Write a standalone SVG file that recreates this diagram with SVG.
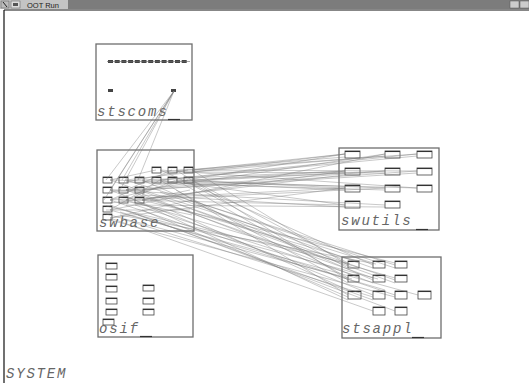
<svg xmlns="http://www.w3.org/2000/svg" width="529" height="383" viewBox="0 0 529 383">
<defs>
<style>
.frame{fill:none;stroke:#6e6e6e;stroke-width:1.3}
.lbl{font-family:"Liberation Mono",monospace;font-style:italic;font-size:14px;letter-spacing:1.8px;fill:#666}
.r{fill:#fff;stroke:#444;stroke-width:0.8}
.rt{stroke:#333;stroke-width:1.1}
.c line{stroke:#777;stroke-width:0.5;stroke-opacity:0.8}
.d{fill:#444}
</style>
</defs>
<rect width="529" height="383" fill="#fff"/>
<g id="titlebar">
<rect x="0" y="0" width="529" height="9" fill="#7c7c7c"/>
<rect x="0" y="0" width="68" height="9" fill="#c4c4c4"/>
<rect x="1" y="1" width="8" height="7" fill="#bbb" stroke="#555" stroke-width="0.5"/>
<line x1="3" y1="2" x2="7" y2="7" stroke="#222" stroke-width="1"/>
<rect x="11" y="1" width="9" height="7" fill="#ddd" stroke="#555" stroke-width="0.5"/>
<rect x="13" y="3" width="5" height="3" fill="#555"/>
<text x="27" y="7.5" font-family="Liberation Sans,sans-serif" font-size="7.5" fill="#222">OOT Run</text>
<rect x="510" y="1" width="9" height="7" fill="#ccc" stroke="#555" stroke-width="0.5"/>
<rect x="520" y="1" width="9" height="7" fill="#ccc" stroke="#555" stroke-width="0.5"/>
<line x1="4" y1="10" x2="529" y2="10" stroke="#111" stroke-width="1.2"/>
<line x1="4" y1="10" x2="4" y2="383" stroke="#111" stroke-width="1.2"/>
</g>
<text class="lbl" x="6" y="378">SYSTEM</text>

<g id="stscoms">
<rect class="frame" x="96" y="44" width="96" height="76"/>
<g class="d">
<rect x="108" y="60" width="5" height="3"/><rect x="114.7" y="60" width="5" height="3"/><rect x="121.4" y="60" width="5" height="3"/><rect x="128.1" y="60" width="5" height="3"/><rect x="134.8" y="60" width="5" height="3"/><rect x="141.5" y="60" width="5" height="3"/><rect x="148.2" y="60" width="5" height="3"/><rect x="154.9" y="60" width="5" height="3"/><rect x="161.6" y="60" width="5" height="3"/><rect x="168.3" y="60" width="5" height="3"/><rect x="175" y="60" width="5" height="3"/><rect x="181.7" y="60" width="5" height="3"/>
<rect x="108" y="89" width="5" height="3"/><rect x="171" y="89" width="5" height="3"/>
</g>
<line x1="107" y1="61.5" x2="190" y2="61.5" stroke="#666" stroke-width="0.6"/>
<text class="lbl" x="97" y="116">stscoms</text>
<line x1="168" y1="119.5" x2="180" y2="119.5" stroke="#333" stroke-width="1.2"/>
</g>

<g id="swbase">
<rect class="frame" x="97" y="150" width="97" height="81"/>
<rect class="r" x="152" y="167" width="9" height="6"/><rect class="r" x="168" y="167" width="9" height="6"/><rect class="r" x="184" y="167" width="9" height="6"/>
<rect class="r" x="103" y="177" width="9" height="6"/><rect class="r" x="119" y="177" width="9" height="6"/><rect class="r" x="135" y="177" width="9" height="6"/><rect class="r" x="152" y="177" width="9" height="6"/><rect class="r" x="168" y="177" width="9" height="6"/><rect class="r" x="184" y="177" width="9" height="6"/>
<rect class="r" x="103" y="187" width="9" height="6"/><rect class="r" x="119" y="187" width="9" height="6"/><rect class="r" x="135" y="187" width="9" height="6"/>
<rect class="r" x="103" y="197" width="9" height="6"/><rect class="r" x="119" y="197" width="9" height="6"/><rect class="r" x="135" y="197" width="9" height="6"/>
<rect class="r" x="103" y="206" width="9" height="6"/><rect class="r" x="103" y="214" width="9" height="6"/>
<g class="rt">
<line x1="152" y1="167.5" x2="161" y2="167.5"/><line x1="168" y1="167.5" x2="177" y2="167.5"/><line x1="184" y1="167.5" x2="193" y2="167.5"/>
<line x1="103" y1="177.5" x2="112" y2="177.5"/><line x1="119" y1="177.5" x2="128" y2="177.5"/><line x1="135" y1="177.5" x2="144" y2="177.5"/><line x1="152" y1="177.5" x2="161" y2="177.5"/><line x1="168" y1="177.5" x2="177" y2="177.5"/><line x1="184" y1="177.5" x2="193" y2="177.5"/>
<line x1="103" y1="187.5" x2="112" y2="187.5"/><line x1="119" y1="187.5" x2="128" y2="187.5"/><line x1="135" y1="187.5" x2="144" y2="187.5"/>
<line x1="103" y1="197.5" x2="112" y2="197.5"/><line x1="119" y1="197.5" x2="128" y2="197.5"/><line x1="135" y1="197.5" x2="144" y2="197.5"/>
<line x1="103" y1="206.5" x2="112" y2="206.5"/><line x1="103" y1="214.5" x2="112" y2="214.5"/>
</g>
<text class="lbl" x="99" y="227">swbase</text>
</g>

<g id="osif">
<rect class="frame" x="98" y="255" width="95" height="82"/>
<rect class="r" x="106" y="263" width="11" height="6"/><rect class="r" x="106" y="274" width="11" height="6"/><rect class="r" x="106" y="286" width="11" height="6"/><rect class="r" x="106" y="298" width="11" height="6"/><rect class="r" x="106" y="309" width="11" height="6"/><rect class="r" x="103" y="319" width="11" height="6"/>
<rect class="r" x="143" y="285" width="11" height="6"/><rect class="r" x="143" y="298" width="11" height="6"/><rect class="r" x="143" y="309" width="11" height="6"/>
<g class="rt">
<line x1="106" y1="263.5" x2="117" y2="263.5"/><line x1="106" y1="274.5" x2="117" y2="274.5"/><line x1="106" y1="286.5" x2="117" y2="286.5"/><line x1="106" y1="298.5" x2="117" y2="298.5"/><line x1="106" y1="309.5" x2="117" y2="309.5"/><line x1="103" y1="319.5" x2="114" y2="319.5"/>
<line x1="143" y1="285.5" x2="154" y2="285.5"/><line x1="143" y1="298.5" x2="154" y2="298.5"/><line x1="143" y1="309.5" x2="154" y2="309.5"/>
</g>
<text class="lbl" x="99" y="333">osif</text>
<line x1="140" y1="336.5" x2="152" y2="336.5" stroke="#333" stroke-width="1.2"/>
</g>

<g id="swutils">
<rect class="frame" x="339" y="148" width="100" height="82"/>
<rect class="r" x="345" y="151" width="15" height="7"/><rect class="r" x="385" y="151" width="15" height="7"/><rect class="r" x="417" y="151" width="15" height="7"/>
<rect class="r" x="345" y="168" width="15" height="7"/><rect class="r" x="385" y="168" width="15" height="7"/><rect class="r" x="417" y="168" width="15" height="7"/>
<rect class="r" x="345" y="185" width="15" height="7"/><rect class="r" x="385" y="185" width="15" height="7"/><rect class="r" x="417" y="185" width="15" height="7"/>
<rect class="r" x="345" y="201" width="15" height="7"/><rect class="r" x="385" y="201" width="15" height="7"/>
<g class="rt">
<line x1="345" y1="151.5" x2="360" y2="151.5"/><line x1="385" y1="151.5" x2="400" y2="151.5"/><line x1="417" y1="151.5" x2="432" y2="151.5"/>
<line x1="345" y1="168.5" x2="360" y2="168.5"/><line x1="385" y1="168.5" x2="400" y2="168.5"/><line x1="417" y1="168.5" x2="432" y2="168.5"/>
<line x1="345" y1="185.5" x2="360" y2="185.5"/><line x1="385" y1="185.5" x2="400" y2="185.5"/><line x1="417" y1="185.5" x2="432" y2="185.5"/>
<line x1="345" y1="201.5" x2="360" y2="201.5"/><line x1="385" y1="201.5" x2="400" y2="201.5"/>
</g>
<text class="lbl" x="341" y="225">swutils</text>
<line x1="416" y1="229.5" x2="428" y2="229.5" stroke="#333" stroke-width="1.2"/>
</g>

<g id="stsappl">
<rect class="frame" x="342" y="257" width="99" height="81"/>
<rect class="r" x="348" y="261" width="11" height="7"/><rect class="r" x="373" y="261" width="12" height="7"/><rect class="r" x="395" y="261" width="12" height="7"/>
<rect class="r" x="348" y="275" width="11" height="7"/><rect class="r" x="373" y="275" width="12" height="7"/><rect class="r" x="395" y="275" width="12" height="7"/>
<rect class="r" x="348" y="291" width="13" height="8"/><rect class="r" x="373" y="291" width="12" height="8"/><rect class="r" x="395" y="291" width="12" height="8"/><rect class="r" x="418" y="291" width="13" height="8"/>
<rect class="r" x="373" y="307" width="12" height="8"/><rect class="r" x="395" y="307" width="12" height="8"/>
<g class="rt">
<line x1="348" y1="261.5" x2="359" y2="261.5"/><line x1="373" y1="261.5" x2="385" y2="261.5"/><line x1="395" y1="261.5" x2="407" y2="261.5"/>
<line x1="348" y1="275.5" x2="359" y2="275.5"/><line x1="373" y1="275.5" x2="385" y2="275.5"/><line x1="395" y1="275.5" x2="407" y2="275.5"/>
<line x1="348" y1="291.5" x2="361" y2="291.5"/><line x1="373" y1="291.5" x2="385" y2="291.5"/><line x1="395" y1="291.5" x2="407" y2="291.5"/><line x1="418" y1="291.5" x2="431" y2="291.5"/>
<line x1="373" y1="307.5" x2="385" y2="307.5"/><line x1="395" y1="307.5" x2="407" y2="307.5"/>
</g>
<text class="lbl" x="342" y="333">stsappl</text>
<line x1="412" y1="337.5" x2="424" y2="337.5" stroke="#333" stroke-width="1.2"/>
</g>

<g id="connectors" class="c">
<line x1="174" y1="91" x2="106" y2="180"/><line x1="174" y1="91" x2="122" y2="180"/><line x1="174" y1="91" x2="110" y2="190"/><line x1="174" y1="91" x2="138" y2="180"/><line x1="174" y1="91" x2="104" y2="200"/><line x1="174" y1="91" x2="120" y2="190"/>
<line x1="110" y1="180" x2="156" y2="170"/><line x1="126" y1="190" x2="172" y2="170"/><line x1="110" y1="200" x2="188" y2="180"/><line x1="110" y1="210" x2="160" y2="180"/><line x1="126" y1="200" x2="176" y2="180"/><line x1="142" y1="200" x2="190" y2="190"/><line x1="110" y1="218" x2="192" y2="200"/><line x1="110" y1="190" x2="142" y2="190"/><line x1="110" y1="200" x2="142" y2="186"/><line x1="126" y1="182" x2="188" y2="170"/><line x1="106" y1="210" x2="190" y2="210"/><line x1="120" y1="200" x2="192" y2="215"/>
<line x1="192" y1="170" x2="345" y2="154"/><line x1="192" y1="180" x2="345" y2="171"/><line x1="176" y1="180" x2="345" y2="188"/><line x1="160" y1="180" x2="345" y2="205"/><line x1="142" y1="190" x2="385" y2="154"/><line x1="126" y1="190" x2="385" y2="171"/><line x1="142" y1="200" x2="385" y2="188"/><line x1="110" y1="190" x2="385" y2="205"/><line x1="192" y1="170" x2="417" y2="154"/><line x1="176" y1="170" x2="417" y2="171"/><line x1="160" y1="170" x2="417" y2="188"/><line x1="126" y1="180" x2="345" y2="154"/><line x1="142" y1="180" x2="345" y2="171"/><line x1="110" y1="200" x2="345" y2="188"/><line x1="126" y1="200" x2="345" y2="205"/><line x1="110" y1="210" x2="385" y2="154"/><line x1="192" y1="180" x2="385" y2="171"/><line x1="176" y1="180" x2="385" y2="188"/><line x1="160" y1="180" x2="417" y2="154"/><line x1="142" y1="190" x2="417" y2="171"/><line x1="110" y1="180" x2="417" y2="188"/><line x1="126" y1="190" x2="345" y2="154"/><line x1="142" y1="200" x2="345" y2="171"/><line x1="110" y1="218" x2="345" y2="188"/><line x1="192" y1="172" x2="385" y2="156"/><line x1="176" y1="182" x2="345" y2="173"/><line x1="160" y1="182" x2="345" y2="190"/><line x1="126" y1="182" x2="385" y2="190"/><line x1="142" y1="182" x2="417" y2="156"/><line x1="110" y1="192" x2="417" y2="173"/><line x1="160" y1="172" x2="345" y2="157"/><line x1="176" y1="172" x2="385" y2="173"/><line x1="110" y1="203" x2="345" y2="175"/><line x1="126" y1="205" x2="385" y2="207"/><line x1="142" y1="195" x2="345" y2="207"/>
<line x1="192" y1="180" x2="348" y2="263"/><line x1="176" y1="180" x2="348" y2="278"/><line x1="160" y1="180" x2="348" y2="295"/><line x1="142" y1="190" x2="373" y2="263"/><line x1="126" y1="190" x2="373" y2="278"/><line x1="110" y1="190" x2="373" y2="295"/><line x1="142" y1="200" x2="395" y2="263"/><line x1="126" y1="200" x2="395" y2="278"/><line x1="110" y1="200" x2="395" y2="295"/><line x1="110" y1="210" x2="418" y2="295"/><line x1="110" y1="218" x2="373" y2="311"/><line x1="126" y1="210" x2="395" y2="311"/><line x1="192" y1="170" x2="348" y2="265"/><line x1="176" y1="170" x2="348" y2="280"/><line x1="160" y1="170" x2="373" y2="265"/><line x1="142" y1="180" x2="373" y2="280"/><line x1="126" y1="180" x2="395" y2="265"/><line x1="110" y1="180" x2="395" y2="280"/><line x1="142" y1="210" x2="348" y2="297"/><line x1="126" y1="220" x2="373" y2="297"/><line x1="110" y1="220" x2="395" y2="297"/><line x1="192" y1="185" x2="348" y2="268"/><line x1="176" y1="190" x2="348" y2="283"/><line x1="160" y1="192" x2="373" y2="268"/><line x1="142" y1="194" x2="373" y2="283"/><line x1="126" y1="196" x2="348" y2="300"/><line x1="110" y1="205" x2="373" y2="300"/><line x1="190" y1="200" x2="395" y2="268"/><line x1="180" y1="205" x2="395" y2="283"/><line x1="170" y1="210" x2="348" y2="290"/><line x1="150" y1="200" x2="360" y2="262"/><line x1="135" y1="205" x2="360" y2="277"/><line x1="120" y1="212" x2="385" y2="290"/><line x1="106" y1="206" x2="350" y2="264"/><line x1="106" y1="214" x2="352" y2="279"/><line x1="120" y1="215" x2="376" y2="264"/><line x1="138" y1="215" x2="378" y2="279"/>
</g>
</svg>
